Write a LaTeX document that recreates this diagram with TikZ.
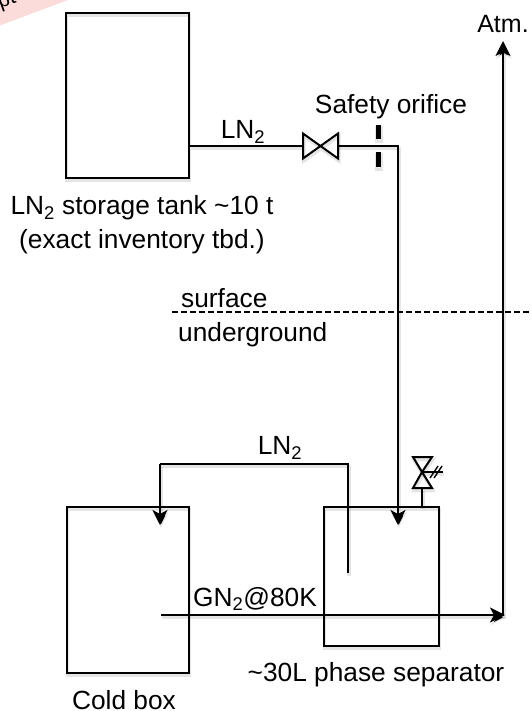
\documentclass[tikz,border=0pt]{standalone}
\usepackage{fontspec}
\setmainfont{Liberation Sans}
\usetikzlibrary{arrows.meta}
\definecolor{stamp}{RGB}{252,219,219}
\tikzset{
  x=1pt,y=-1pt,
  shadowed/.style={preaction={draw=black,draw opacity=.1,line width=3.5pt,transform canvas={xshift=.8pt,yshift=-2.5pt}}},
  box/.style={draw,line width=1.8pt,inner sep=0pt,anchor=north west,shadowed},
  pipe/.style={draw,line width=2pt,shadowed},
  thick pipe/.style={draw,line width=2.6pt,shadowed},
  tip/.style={-{Stealth[length=15pt,width=15pt,inset=4pt]}},
  lbl/.style={inner sep=0pt,font=\fontsize{26.3}{30}\selectfont},
}
\begin{document}
\begin{tikzpicture}
\useasboundingbox (0,0) rectangle (530,711);
\begin{scope}
\clip (0,0) rectangle (530,711);
\fill[stamp] (0,25.5) -- (68,0) -- (0,0) -- cycle;
\node[inner sep=0pt,rotate=20,font=\fontsize{21}{24}\selectfont] (stamptext) at (7,1) {pt};
\end{scope}
% vessels
\node[box,minimum width=123pt,minimum height=165pt] (tank) at (65,12) {};
\node[box,minimum width=122pt,minimum height=166pt] (cold) at (66,506) {};
\node[box,minimum width=115pt,minimum height=139pt] (sep) at (323,506) {};
% named points
\coordinate (vL) at (303,146);
\coordinate (vR) at (338,146);
\coordinate (vC) at (320.5,146);
\coordinate (bend) at (398,146);
\coordinate (sepin) at (398,525);
\coordinate (dipend) at (348,573);
\coordinate (diptop) at (348,464);
\coordinate (coldtop) at (160,464);
\coordinate (coldin) at (160,525);
\coordinate (gnstart) at (161,615);
\coordinate (gnend) at (505,615);
\coordinate (atmbase) at (503,616);
\coordinate (atmtip) at (503,41);
\coordinate (dashL) at (172,312);
\coordinate (dashR) at (530,312);
% pipes
\draw[pipe] (tank.east|-vC) -- (vL);
\draw[pipe] (vL) -- ++(0,-12.5) -- ++(35,25) -- ++(0,-25) -- ++(-35,25) -- cycle;
\draw[thick pipe,tip] (vR) -- (bend) -- (sepin);
\draw[pipe] (dipend) -- (diptop) -- (coldtop);
\draw[thick pipe,tip] (coldtop) -- (coldin);
\draw[thick pipe,tip] (gnstart) -- (gnend);
\draw[thick pipe,tip] (atmbase) -- (atmtip);
% orifice
\fill[shadowed] (375.5,125) rectangle (380.5,139);
\fill[shadowed] (375.5,152) rectangle (380.5,167);
% relief valve
\coordinate (rv) at (422,472);
\coordinate (rvb) at (422,488);
\draw[pipe] (rv) -- (413,457) -- (432,457) -- cycle;
\draw[pipe] (rv) -- (413,488) -- (432,488) -- cycle;
\draw[pipe] (rvb) -- (rvb|-sep.north);
\draw[pipe,line width=1.4pt] (rv) -- (443,472);
\draw[line width=1.4pt] (430,478) -- (438,466);
\draw[line width=1.4pt] (434,478) -- (442,466);
% ground level
\draw[line width=1.2pt,dash pattern=on 6pt off 3pt] (dashL) -- (dashR);
% labels
\node[lbl] (l1) at (243,132) {LN\textsubscript{2}};
\node[lbl] (l2) at (391,107) {Safety orifice};
\node[lbl] (l3) at (142,208) {LN\textsubscript{2} storage tank \textasciitilde 10 t};
\node[lbl] (l4) at (142,242) {(exact inventory tbd.)};
\node[lbl,anchor=west] (l5) at (181,298) {surface};
\node[lbl,anchor=west] (l6) at (178,335) {underground};
\node[lbl] (l7) at (280,448) {LN\textsubscript{2}};
\node[lbl,anchor=west] (l8) at (193,599) {GN\textsubscript{2}@80K};
\node[lbl] (l9) at (376,675) {\textasciitilde 30L phase separator};
\node[lbl] (l10) at (124,700) {Cold box};
\node[lbl,font=\fontsize{25}{30}\selectfont] (l11) at (503,24) {Atm.};
\end{tikzpicture}
\end{document}
